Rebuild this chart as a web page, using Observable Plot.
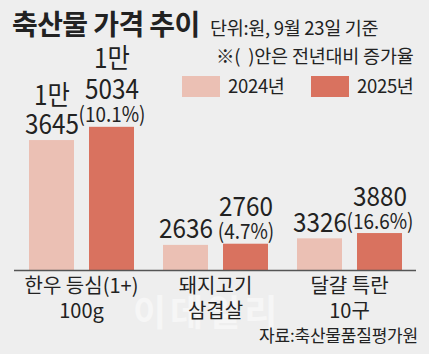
<!DOCTYPE html>
<html><head><meta charset="utf-8">
<script src="https://cdn.jsdelivr.net/npm/d3@7"></script>
<script src="https://cdn.jsdelivr.net/npm/@observablehq/plot@0.6"></script>
<style>
html,body{margin:0;padding:0;background:#eeeeee;}
#wrap{position:relative;width:429px;height:354px;overflow:hidden;background:#eeeeee;font-family:"Noto Sans CJK KR",sans-serif;color:#222;}
.abs{position:absolute;white-space:pre;line-height:1;}
#chart{position:absolute;left:0;top:0;}
.sw{position:absolute;width:38px;height:21px;}
</style></head><body><div id="wrap">
<div class="abs" id="wm" style="left:133px;top:292px;font-size:36px;font-weight:700;color:rgba(255,255,255,0.5);letter-spacing:4px;"></div>
<div id="chart"></div>
<div class="abs" id="title" style="left:12px;top:9px;font-size:28px;font-weight:700;letter-spacing:-0.6px;"></div>
<div class="abs" id="sub" style="left:210px;top:18px;font-size:18.5px;letter-spacing:-0.3px;"></div>
<div class="abs" id="note" style="left:216px;top:46px;font-size:18.5px;letter-spacing:-0.2px;"></div>
<div id="legend"></div>
<div class="abs" id="src" style="right:11px;top:326px;font-size:17px;letter-spacing:-0.2px;"></div>
</div>
<script>
const titleText = "축산물 가격 추이";
const subtitleText = "단위:원, 9월 23일 기준";
const noteText = "※(  )안은 전년대비 증가율";
const sourceText = "자료:축산물품질평가원";
const watermarkText = "이데일리";
const categories = ["한우 등심(1+)\n100g", "돼지고기\n삼겹살", "달걀 특란\n10구"];
const years = ["2024년", "2025년"];
const values2024 = [13645, 2636, 3326];
const values2025 = [15034, 2760, 3880];
const labels2024 = ["1만\n3645", "2636", "3326"];
const labels2025 = ["1만\n5034", "2760", "3880"];
const changes = ["(10.1%)", "(4.7%)", "(16.6%)"];
const colors = ["#ebc0b4", "#d9725f"];

document.getElementById("title").textContent = titleText;
document.getElementById("sub").textContent = subtitleText;
document.getElementById("note").textContent = noteText;
document.getElementById("src").textContent = sourceText;
document.getElementById("wm").textContent = watermarkText;

const legend = document.getElementById("legend");
const legendX = [182, 311];
years.forEach((y, i) => {
  const s = document.createElement("div");
  s.className = "sw";
  s.style.left = legendX[i] + "px";
  s.style.top = "76px";
  s.style.background = colors[i];
  legend.appendChild(s);
  const t = document.createElement("div");
  t.className = "abs";
  t.style.left = (legendX[i] + 46) + "px";
  t.style.top = "76px";
  t.style.fontSize = "18.5px";
  t.style.letterSpacing = "-0.3px";
  t.textContent = y;
  legend.appendChild(t);
});

const data = categories.flatMap((c, i) => [
  {cat: c, year: years[0], value: values2024[i], label: labels2024[i], change: null},
  {cat: c, year: years[1], value: values2025[i], label: labels2025[i], change: changes[i]}
]);

const chart = Plot.plot({
  width: 429,
  height: 354,
  marginLeft: 13,
  marginRight: 12,
  marginTop: 70,
  marginBottom: 84,
  style: {background: "transparent", fontFamily: '"Noto Sans CJK KR",sans-serif', color: "#222"},
  fx: {domain: categories, paddingInner: 0, paddingOuter: 0, label: null, axis: null},
  x: {domain: years, paddingInner: 0.25, paddingOuter: 0.237, axis: null},
  y: {domain: [0, 21000], axis: null},
  color: {domain: years, range: colors},
  marks: [
    Plot.barY(data, {fx: "cat", x: "year", y: "value", fill: "year"}),
    Plot.ruleY([0], {stroke: "#555", strokeWidth: 1.5}),
    Plot.text(data, {filter: d => d.year === years[0], fx: "cat", x: "year", y: "value", text: "label",
      lineAnchor: "bottom", dy: -7, fontSize: 27, lineHeight: 1.04, fill: "#222"}),
    Plot.text(data, {filter: d => d.year === years[1], fx: "cat", x: "year", y: "value", text: "label",
      lineAnchor: "bottom", dy: -28, fontSize: 27, lineHeight: 1.15, fill: "#222"}),
    Plot.text(data, {filter: d => d.year === years[1], fx: "cat", x: "year", y: "value", text: "change",
      lineAnchor: "bottom", dy: -5, fontSize: 21, fill: "#222"}),
    Plot.axisFx({anchor: "bottom", tickSize: 0, tickPadding: 5, fontSize: 20, lineHeight: 1.25, label: null, fill: "#222"})
  ]
});
// condensed look for the value labels (horizontal squeeze around each label's anchor)
chart.querySelectorAll('g[aria-label="text"] text').forEach(t => {
  const tr = t.getAttribute("transform") || "";
  t.setAttribute("transform", tr + " scale(0.9,1)");
});
document.getElementById("chart").appendChild(chart);
</script>
</body></html>
